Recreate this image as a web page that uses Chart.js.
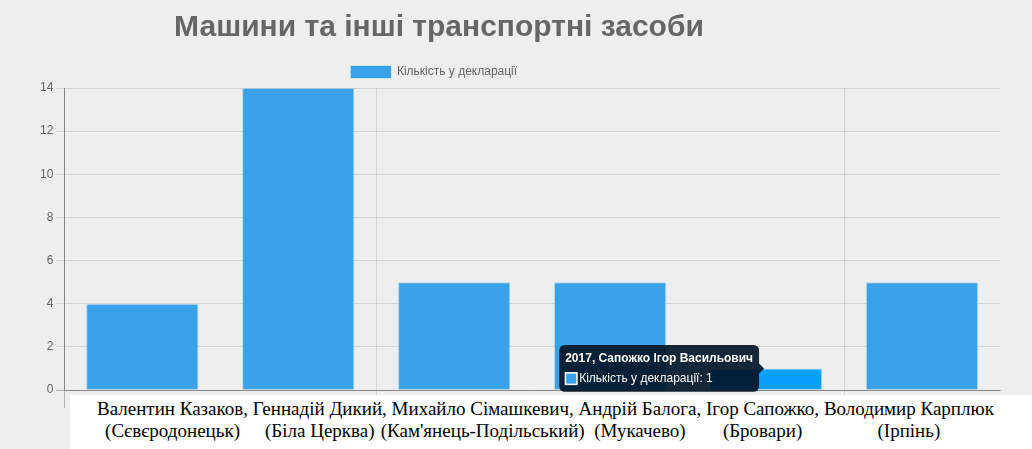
<!DOCTYPE html>
<html>
<head>
<meta charset="utf-8">
<script src="https://cdn.jsdelivr.net/npm/chart.js@4.4.0/dist/chart.umd.min.js"></script>
<style>
  body { margin: 0; background: #eeeeee; }
  #wrap { position: relative; width: 1032px; height: 449px; overflow: hidden; }
  #box { position: absolute; left: 0; top: 0; width: 1032px; height: 410px; }
  #captions {
    position: absolute; left: 70px; top: 395px; right: 0; bottom: 0;
    background: #fff; color: #000;
    font: 19px "Liberation Serif", "Times New Roman", serif;
    line-height: 22px; padding: 3px 0 0 27px; white-space: nowrap;
  }
  .cap { display: inline-block; text-align: center; vertical-align: top; }
  .city { position: relative; height: 22px; }
  .city span { position: absolute; left: 50%; transform: translateX(-50%); white-space: nowrap; }
</style>
</head>
<body>
<div id="wrap">
  <div id="box"><canvas id="carsChart"></canvas></div>
  <div id="captions"></div>
</div>
<script>
const declarants = [
    '2017, Казаков Валентин',
    '2017, Дикий Геннадій',
    '2017, Сімашкевич Михайло',
    '2017, Балога Андрій',
    '2017, Сапожко Ігор Васильович',
    '2017, Карплюк Володимир'
];
const names = [
    'Валентин Казаков,',
    'Геннадій Дикий,',
    'Михайло Сімашкевич,',
    'Андрій Балога,',
    'Ігор Сапожко,',
    'Володимир Карплюк'
];
const cities = [
    '(Сєвєродонецьк)',
    '(Біла Церква)',
    "(Кам'янець-Подільський)",
    '(Мукачево)',
    '(Бровари)',
    '(Ірпінь)'
];
const carCounts = [4, 14, 5, 5, 1, 5];
const yTickValues = [0, 2, 4, 6, 8, 10, 12, 14];
const hoveredIndex = 4;

// captions under the chart, as in the original page
const captions = document.getElementById('captions');
captions.innerHTML = names.map((n, i) =>
    '<span class="cap">' + n + '<div class="city"><span>' + cities[i] + '</span></div></span>'
).join(' ');

Chart.defaults.font.family = '"Liberation Sans", Arial, sans-serif';
Chart.defaults.color = '#666';

// title and legend sit left of the page centre in the original
const shiftHeader = {
    id: 'shiftHeader',
    afterLayout(chart) {
        chart.titleBlock.right = 2 * 439 - chart.titleBlock.left;
        chart.legend.right = 2 * 434 - chart.legend.left;
    }
};

const carsCtx = document.getElementById('carsChart').getContext('2d');
const chart = new Chart(carsCtx, {
    type: 'bar',
    data: {
        labels: declarants,
        datasets: [{
            label: 'Кількість у декларації',
            data: carCounts,
            backgroundColor: '#38a1e8',
            hoverBackgroundColor: '#08a0fb',
            borderColor: 'rgba(56, 161, 232, 0.3)',
            hoverBorderColor: 'rgba(56, 161, 232, 0.3)',
            borderWidth: 1
        }]
    },
    options: {
        responsive: true,
        maintainAspectRatio: false,
        animation: false,
        layout: { padding: { left: 37, right: 32, top: 0, bottom: 2 } },
        plugins: {
            title: {
                display: true,
                text: 'Машини та інші транспортні засоби',
                color: '#666',
                font: { size: 30, weight: 'bold' },
                padding: { top: 10, bottom: 10 }
            },
            legend: {
                labels: {
                    boxWidth: 40,
                    boxHeight: 12,
                    font: { size: 12 },
                    color: '#666',
                    padding: 10
                }
            },
            tooltip: {
                backgroundColor: 'rgba(0, 22, 40, 0.92)',
                xAlign: 'right',
                yAlign: 'center',
                titleFont: { size: 12, weight: 'bold' },
                bodyFont: { size: 12 },
                padding: 6,
                cornerRadius: 6,
                caretSize: 5,
                boxPadding: 0,
                callbacks: {
                    labelColor: () => ({ borderColor: '#ffffff', backgroundColor: '#38a1e8' })
                }
            }
        },
        scales: {
            x: {
                ticks: { display: false },
                grid: {
                    tickLength: 18,
                    color: (c) => {
                        if (c.index === 0) return 'rgba(0, 0, 0, 0.25)';
                        if (c.index === 2 || c.index === 5) return 'rgba(0, 0, 0, 0.1)';
                        return 'transparent';
                    }
                },
                border: { color: 'rgba(0, 0, 0, 0.25)' }
            },
            y: {
                min: 0,
                max: 14,
                afterBuildTicks: (axis) => { axis.ticks = yTickValues.map(v => ({ value: v })); },
                ticks: { font: { size: 12 }, color: '#666', padding: 3 },
                grid: {
                    tickLength: 8,
                    color: (c) => c.tick && c.tick.value === 0 ? 'rgba(0, 0, 0, 0.25)' : 'rgba(0, 0, 0, 0.1)'
                },
                border: { color: 'rgba(0, 0, 0, 0.25)' }
            }
        }
    },
    plugins: [shiftHeader]
});

// show the hovered bar with its tooltip, as in the screenshot
const active = [{ datasetIndex: 0, index: hoveredIndex }];
const bar = chart.getDatasetMeta(0).data[hoveredIndex];
chart.setActiveElements(active);
chart.tooltip.setActiveElements(active, { x: bar.x, y: bar.y });
chart.update();
</script>
</body>
</html>
